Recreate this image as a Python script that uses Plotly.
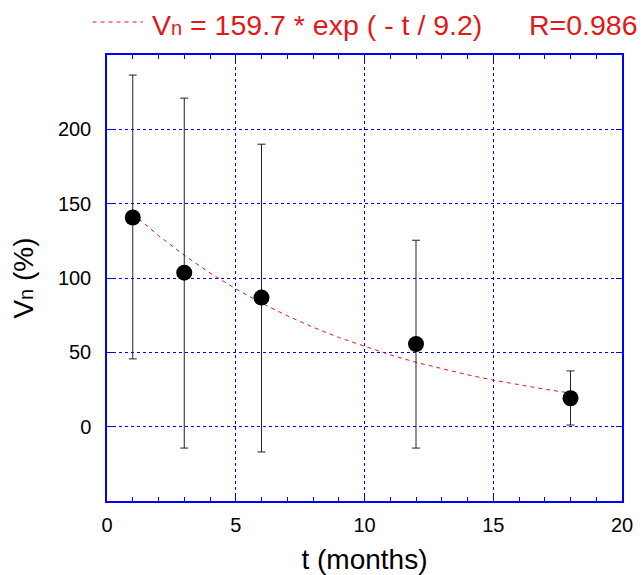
import plotly.graph_objects as go

# Data
t_months = [1, 3, 6, 12, 18]
vn_mean = [140.7, 103.6, 86.8, 55.6, 19.1]
err_plus = [95.8, 117.4, 103.2, 69.8, 18.4]
err_minus = [95.1, 118.0, 103.8, 70.0, 18.0]

# Fitted curve Vn = 159.7 * exp(-t/9.2), values read at integer months
fit_t = [1, 2, 3, 4, 5, 6, 7, 8, 9, 10, 11, 12, 13, 14, 15, 16, 17, 18]
fit_v = [143.3, 128.5, 115.3, 103.4, 92.7, 83.2, 74.6, 66.9, 60.0, 53.9,
         48.3, 43.3, 38.9, 34.9, 31.3, 28.1, 25.2, 22.6]

x_ticks = [0, 5, 10, 15, 20]
y_ticks = [0, 50, 100, 150, 200]

RED = "rgb(225,25,25)"
BLUE = "#0000ff"
FONT = "Liberation Sans, Arial, sans-serif"

fig = go.Figure()
fig.add_trace(go.Scatter(
    x=fit_t, y=fit_v, mode="lines",
    line=dict(color=RED, width=1, dash="4px,4px"),
    showlegend=False, hoverinfo="skip"))
fig.add_trace(go.Scatter(
    x=t_months, y=vn_mean, mode="markers",
    marker=dict(color="black", size=16),
    error_y=dict(type="data", symmetric=False, array=err_plus,
                 arrayminus=err_minus, color="#222222", thickness=1, width=4),
    showlegend=False))

axis_common = dict(
    showline=True, linecolor=BLUE, linewidth=1.5, mirror="ticks",
    ticks="inside", tickcolor=BLUE, showgrid=True, gridcolor=BLUE,
    griddash="dot", gridwidth=1, zeroline=False, automargin=False,
    tickfont=dict(family=FONT, size=20, color="black"),
)

fig.update_xaxes(
    **axis_common, range=[0, 20], tickvals=x_ticks, ticklen=8,
    ticklabelstandoff=5,
    minor=dict(dtick=1, ticks="inside", ticklen=4, tickcolor=BLUE, showgrid=False),
    title=dict(text="t (months)", font=dict(family=FONT, size=28, color="black"), standoff=15),
)
fig.update_yaxes(
    **axis_common, range=[-50, 250], tickvals=y_ticks, ticklen=6,
    ticklabelstandoff=10,
    title=dict(text="V<span style='font-size:20px'>n</span> (%)",
               font=dict(family=FONT, size=28, color="black"), standoff=16),
)

# Legend line sample and text
fig.add_shape(type="line", xref="paper", yref="paper",
              x0=-0.028, x1=0.07, y0=1.074, y1=1.074,
              line=dict(color=RED, width=1, dash="4px,4px"))
fig.add_annotation(xref="paper", yref="paper", x=0.0835, y=1.067,
                   xanchor="left", yanchor="middle", showarrow=False,
                   text="V<span style='font-size:20px'>n</span> = 159.7 * exp ( - t / 9.2)",
                   font=dict(family=FONT, size=28.5, color=RED))
fig.add_annotation(xref="paper", yref="paper", x=1.034, y=1.067,
                   xanchor="right", yanchor="middle", showarrow=False,
                   text="R=0.986",
                   font=dict(family=FONT, size=28.5, color=RED))

fig.update_layout(
    width=644, height=575,
    margin=dict(l=107, r=22, t=55, b=74),
    plot_bgcolor="white", paper_bgcolor="white",
    font=dict(family=FONT),
)

fig.write_html("out.html")
